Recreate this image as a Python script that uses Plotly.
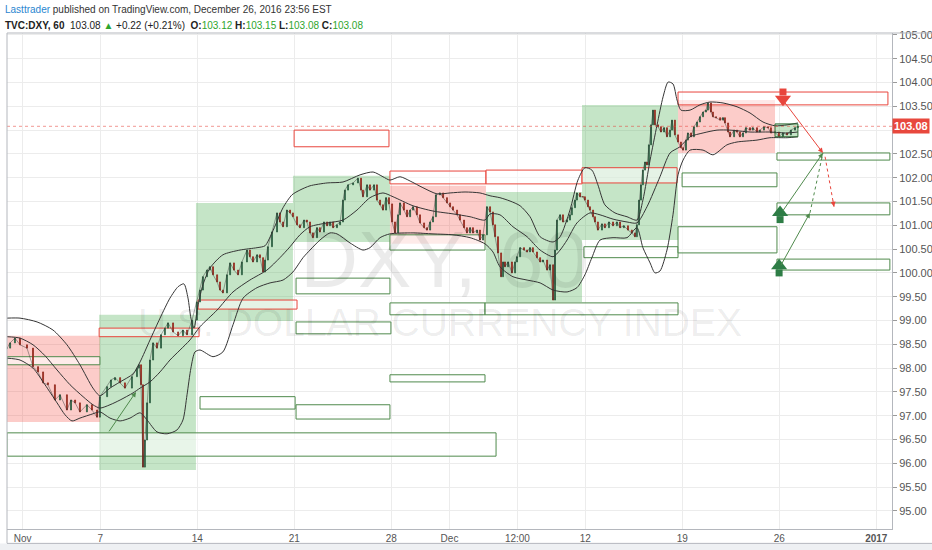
import plotly.graph_objects as go

# time axis: trading days counted from Nov 1 2016 00:00 (weekends removed)
tick_t = [0, 4, 9, 14, 19, 22, 25.5, 29, 34, 39, 44]
tick_text = ["Nov", "7", "14", "21", "28", "Dec", "12:00", "12", "19", "26", "<b>2017</b>"]
price_ticks = [95.0 + 0.5 * i for i in range(21)]

# hourly closes (sampled), DXY 60
t_close = [
    -0.81, -0.65, -0.40, -0.14, 0.22, 0.53, 0.79, 1.05, 1.30, 1.66, 1.92, 2.28, 2.49, 2.70, 2.95, 3.31, 3.57, 3.83,
    3.98, 4.35, 4.55, 4.76, 5.02, 5.27, 5.63, 5.89, 5.99, 6.10, 6.20, 6.30, 6.41, 6.56, 6.72, 6.92, 7.13, 7.33, 7.49, 7.75, 8.01, 8.26, 8.47, 8.73,
    8.98, 9.14, 9.29, 9.50, 9.65, 9.81, 10.02, 10.17, 10.32, 10.53, 10.69, 10.89, 11.10, 11.30, 11.56, 11.71, 11.87, 12.08, 12.23, 12.39, 12.49, 12.64, 12.85, 13.11, 13.26, 13.42, 13.62, 13.78,
    13.93, 14.14, 14.29, 14.50, 14.65, 14.81, 14.96, 15.17, 15.32, 15.53, 15.69, 15.84, 16.00, 16.20, 16.36, 16.51, 16.61, 16.77, 17.03, 17.28, 17.44, 17.54, 17.75, 17.90, 18.11, 18.26, 18.42, 18.57, 18.73,
    18.88, 19.04, 19.19, 19.35, 19.45, 19.65, 19.81, 19.97, 20.12, 20.32, 20.48, 20.69, 20.84, 21.00, 21.15, 21.30, 21.51, 21.67, 21.87, 22.03, 22.18, 22.39, 22.54, 22.75, 22.90, 23.06, 23.21, 23.42, 23.57, 23.73,
    23.93, 24.09, 24.24, 24.35, 24.50, 24.66, 24.76, 24.86, 25.02, 25.22, 25.38, 25.48, 25.64, 25.84, 26.00, 26.15, 26.30, 26.51, 26.67, 26.82, 27.03, 27.18, 27.34, 27.44,
    27.54, 27.70, 27.85, 28.06, 28.21, 28.31, 28.47, 28.57, 28.73, 28.88,
    28.98, 29.14, 29.24, 29.40, 29.50, 29.65, 29.86, 30.01, 30.22, 30.43, 30.63, 30.79, 30.99, 31.20, 31.40, 31.56, 31.66, 31.77, 31.87, 31.97, 32.08, 32.18, 32.28, 32.39, 32.49, 32.59, 32.75, 32.90, 33.06, 33.21, 33.37, 33.47, 33.62,
    33.78, 33.93, 34.04, 34.19, 34.29, 34.45, 34.60, 34.76, 34.91, 35.07, 35.22, 35.32, 35.48, 35.58, 35.74, 35.95, 36.10, 36.20, 36.36, 36.46, 36.67, 36.82, 36.97, 37.13, 37.28, 37.49, 37.64, 37.85, 38.00, 38.21, 38.42, 38.57,
    38.78, 38.98, 39.19, 39.40, 39.60, 39.81, 39.96,
]
close = [
    98.42, 98.53, 98.63, 98.49, 98.42, 98.03, 97.92, 97.69, 97.65, 97.33, 97.44, 97.12, 97.33, 97.27, 97.08, 97.23, 97.12, 96.97,
    97.40, 97.61, 97.75, 97.80, 97.69, 97.58, 97.82, 98.00, 98.07, 97.65, 95.92, 96.49, 97.27, 98.17, 98.53, 98.42, 98.70, 98.84, 98.95, 98.76, 98.68, 98.80, 98.70, 99.01,
    99.39, 99.64, 99.92, 100.06, 100.13, 99.96, 99.81, 99.64, 99.58, 99.96, 100.21, 100.06, 99.96, 100.23, 100.48, 100.34, 100.23, 100.38, 100.32, 100.02, 100.27, 100.55, 100.86, 101.26, 101.07, 100.97, 101.32, 101.26,
    101.18, 101.01, 100.95, 101.11, 101.07, 100.84, 100.74, 100.95, 100.86, 101.07, 100.99, 101.07, 100.95, 101.01, 101.07, 101.53, 101.74, 101.85, 101.89, 101.99, 101.74, 101.60, 101.85, 101.74, 101.85, 101.53, 101.43, 101.32, 101.58,
    101.45, 101.07, 100.84, 101.22, 101.47, 101.32, 101.18, 101.32, 101.39, 101.22, 101.05, 100.95, 100.90, 101.07, 101.18, 101.64, 101.68, 101.58, 101.47, 101.39, 101.32, 101.22, 101.11, 100.95, 100.84, 100.95, 100.84, 100.90, 100.69, 100.80,
    101.39, 101.28, 101.01, 100.76, 100.42, 99.92, 100.23, 100.13, 100.23, 100.00, 100.23, 100.34, 100.53, 100.48, 100.44, 100.53, 100.44, 100.32, 100.23, 100.27, 100.06, 100.17, 99.43, 100.48,
    101.11, 101.22, 101.07, 101.11, 101.22, 101.37, 101.53, 101.68, 101.60, 101.60,
    101.53, 101.39, 101.32, 101.18, 101.07, 100.90, 101.03, 100.95, 101.07, 100.99, 101.07, 100.95, 100.99, 100.90, 100.84, 100.76, 101.01, 101.53, 101.85, 102.16, 102.33, 102.27, 102.69, 103.11, 103.42, 103.11, 103.07, 102.96, 103.05, 102.86, 103.00, 103.21, 102.90,
    102.75, 102.63, 102.58, 102.79, 102.94, 102.86, 103.07, 103.17, 103.28, 103.38, 103.42, 103.57, 103.38, 103.28, 103.26, 103.21, 103.26, 103.15, 102.96, 102.86, 103.00, 102.96, 102.86, 102.94, 103.05, 103.00, 103.05, 102.96, 103.00, 103.07, 103.05, 102.94,
    102.96, 102.86, 102.94, 102.90, 103.00, 103.05, 103.08,
]

# Bollinger bands
bb_upper_t = [-0.81, -0.14, 0.74, 1.56, 2.28, 2.95, 3.62, 3.98, 4.50, 5.02, 5.69, 6.05, 6.56, 7.08, 7.59, 8.01, 8.31, 8.52, 8.67, 8.83, 9.04, 9.29, 9.65, 10.32, 11.20, 12.08, 12.49, 12.85, 13.42, 13.88, 14.29, 14.81, 15.69, 16.51, 17.39, 18.06, 18.57, 18.93, 19.45, 19.97, 20.63, 21.36, 22.03, 22.80, 23.57, 24.09, 24.60, 25.12, 25.64, 26.15, 26.67, 27.34, 27.70, 28.21, 28.62, 28.98, 29.34, 29.65, 30.01, 30.53, 31.15, 31.66, 31.97, 32.34, 32.70, 33.01, 33.27, 33.52, 33.73, 33.93, 34.40, 34.91, 35.43, 36.10, 36.82, 37.49, 38.16, 38.78, 39.40, 39.96]
bb_upper = [99.05, 99.05, 98.97, 98.80, 98.49, 98.07, 97.58, 97.42, 97.58, 97.71, 97.88, 98.13, 98.59, 99.05, 99.47, 99.71, 99.77, 99.47, 99.05, 98.84, 99.33, 99.75, 100.10, 100.38, 100.48, 100.53, 100.57, 100.84, 101.37, 101.64, 101.74, 101.83, 101.89, 101.91, 102.06, 102.12, 102.02, 101.95, 102.02, 101.93, 101.79, 101.66, 101.68, 101.70, 101.68, 101.62, 101.58, 101.51, 101.41, 101.18, 100.76, 100.65, 100.76, 101.32, 101.95, 102.21, 102.16, 101.85, 101.43, 101.26, 101.18, 101.11, 101.53, 102.37, 103.11, 103.70, 104.01, 103.97, 103.63, 103.42, 103.42, 103.53, 103.59, 103.57, 103.49, 103.36, 103.17, 103.09, 103.11, 103.15]

bb_mid_t = [-0.81, -0.14, 0.53, 1.15, 1.77, 2.44, 3.11, 3.62, 3.98, 4.50, 5.02, 5.69, 6.05, 6.56, 7.08, 7.59, 8.11, 8.62, 9.14, 10.02, 10.84, 11.71, 12.59, 13.26, 13.78, 14.29, 14.81, 15.69, 16.51, 17.23, 17.90, 18.57, 19.09, 20.12, 21.15, 22.18, 23.06, 23.83, 24.09, 24.60, 25.27, 26.00, 26.67, 27.34, 27.70, 28.06, 28.57, 29.24, 29.76, 30.43, 31.15, 31.66, 32.18, 32.85, 33.37, 33.88, 34.40, 35.07, 35.79, 36.46, 37.49, 38.52, 39.40, 39.96]
bb_mid = [98.66, 98.63, 98.49, 98.26, 97.96, 97.65, 97.40, 97.23, 97.16, 97.23, 97.33, 97.48, 97.58, 97.71, 97.92, 98.17, 98.38, 98.59, 98.87, 99.22, 99.60, 99.85, 100.06, 100.32, 100.55, 100.80, 100.97, 101.05, 101.11, 101.32, 101.58, 101.68, 101.60, 101.41, 101.30, 101.24, 101.18, 101.11, 101.24, 101.22, 100.97, 100.76, 100.48, 100.34, 100.48, 100.69, 101.05, 101.26, 101.22, 101.13, 101.07, 101.05, 101.39, 102.02, 102.52, 102.65, 102.86, 102.94, 103.00, 103.00, 102.96, 102.96, 102.94, 102.96]

bb_lower_t = [-0.81, -0.14, 0.53, 1.15, 1.77, 2.18, 2.54, 2.95, 3.62, 3.98, 4.50, 5.02, 5.53, 6.05, 6.41, 6.92, 7.44, 7.95, 8.26, 8.47, 8.67, 8.88, 9.14, 9.81, 10.32, 10.84, 11.36, 12.08, 12.75, 13.42, 13.93, 14.45, 14.81, 15.32, 15.84, 16.20, 16.87, 17.54, 17.90, 18.42, 18.93, 20.12, 21.15, 22.18, 23.06, 23.83, 24.24, 24.60, 25.27, 26.00, 26.67, 27.34, 28.06, 28.57, 28.98, 29.34, 29.76, 30.43, 31.15, 31.66, 31.97, 32.34, 32.59, 32.85, 33.21, 33.52, 33.78, 34.04, 34.40, 35.07, 35.58, 36.30, 36.82, 37.85, 38.52, 39.40, 39.96]
bb_lower = [98.21, 98.17, 98.00, 97.65, 97.27, 97.02, 96.89, 96.95, 97.04, 97.08, 96.95, 96.89, 96.95, 97.06, 96.91, 96.66, 96.62, 96.70, 96.91, 97.44, 98.00, 98.34, 98.38, 98.24, 98.34, 98.91, 99.47, 99.69, 99.79, 99.85, 100.02, 100.32, 100.48, 100.69, 100.84, 100.82, 100.63, 100.48, 100.53, 100.74, 100.82, 100.84, 100.82, 100.80, 100.74, 100.61, 100.44, 100.13, 99.92, 99.85, 99.79, 99.64, 99.60, 99.69, 99.96, 100.32, 100.69, 100.74, 100.74, 100.95, 100.53, 100.21, 100.00, 100.04, 100.48, 101.22, 102.06, 102.37, 102.58, 102.58, 102.48, 102.69, 102.75, 102.79, 102.84, 102.84, 102.86]

# drawn zones: filled (start, end, low, high)
green_zone_t0 = [3.94, 8.93, 13.93, 23.88, 28.83, 38.78]
green_zone_t1 = [8.93, 13.93, 18.93, 28.83, 33.78, 39.96]
green_zone_lo = [95.86, 98.99, 100.65, 99.39, 100.69, 102.86]
green_zone_hi = [99.12, 101.47, 102.04, 101.70, 103.53, 103.13]

red_zone_t0 = [-0.81, 18.93, 33.78]
red_zone_t1 = [3.98, 23.88, 38.78]
red_zone_lo = [96.87, 100.61, 102.52]
red_zone_hi = [98.68, 101.83, 103.63]

# drawn outline boxes
red_box_t0 = [3.94, 9.04, 13.99, 18.93, 23.88, 28.83, 33.78]
red_box_t1 = [9.09, 14.14, 18.88, 23.88, 28.83, 33.73, 44.60]
red_box_lo = [98.66, 99.24, 102.65, 101.87, 101.87, 101.89, 103.53]
red_box_hi = [98.84, 99.43, 103.00, 102.14, 102.16, 102.21, 103.80]

green_box_t0 = [-0.81, -0.81, 9.14, 14.09, 14.09, 14.09, 18.93, 18.93, 18.93, 23.83, 28.93, 33.99, 33.78, 38.88, 38.88, 38.88]
green_box_t1 = [3.98, 24.40, 14.04, 18.93, 18.98, 18.93, 23.83, 23.83, 23.83, 33.78, 33.78, 38.88, 38.88, 44.70, 44.70, 44.70]
green_box_lo = [98.07, 96.15, 97.14, 99.56, 98.72, 96.93, 100.48, 99.12, 97.71, 99.12, 100.32, 101.81, 100.42, 102.37, 101.22, 100.06]
green_box_hi = [98.24, 96.64, 97.40, 99.89, 98.97, 97.23, 100.80, 99.37, 97.86, 99.37, 100.55, 102.10, 100.97, 102.52, 101.47, 100.29]

# trend arrows (from t, from price, to t, to price)
green_arrows = [(4.40, 96.64, 5.84, 97.50), (39.14, 101.28, 41.25, 102.52), (39.04, 100.13, 40.58, 101.26)]
green_dashed = [(40.58, 101.26, 41.25, 102.52)]
red_arrows = [(39.19, 103.63, 41.25, 102.52)]
red_dashed = [(41.36, 102.44, 41.82, 101.39)]
up_icons = [(39.04, 101.22), (38.99, 100.10)]
down_icons = [(39.19, 103.70)]

last_price = 103.08

FONT = "Liberation Sans"
GREEN = "#4f8a4c"
RED = "#e8453c"

opens = [close[0]] + close[:-1]
highs = [max(o, c) for o, c in zip(opens, close)]
lows = [min(o, c) for o, c in zip(opens, close)]

fig = go.Figure()

# watermark (first trace so it sits under the candles)
fig.add_trace(go.Scatter(
    x=[21.72, 21.51], y=[100.13, 98.87], mode="text",
    text=["DXY, 60", "U.S. DOLLAR CURRENCY INDEX"],
    textfont=dict(family=FONT, size=[80, 39], color="rgba(0,0,0,0.08)"),
    hoverinfo="skip", showlegend=False,
))

for t, y in [(bb_upper_t, bb_upper), (bb_mid_t, bb_mid), (bb_lower_t, bb_lower)]:
    fig.add_trace(go.Scatter(x=t, y=y, mode="lines", hoverinfo="skip", showlegend=False,
                             line=dict(color="#353535", width=1, shape="spline", smoothing=0.7)))

fig.add_trace(go.Scatter(x=t_close, y=close, mode="lines", hoverinfo="skip", showlegend=False,
                         line=dict(color="rgba(50,50,50,0.55)", width=0.8)))

fig.add_trace(go.Candlestick(
    x=t_close, open=opens, high=highs, low=lows, close=close,
    increasing=dict(line=dict(color="#225437", width=0.8), fillcolor="#6ba583"),
    decreasing=dict(line=dict(color="#8b2318", width=0.8), fillcolor="#d75442"),
    whiskerwidth=0, hoverinfo="skip", showlegend=False,
))

shapes = []
for a, b, lo, hi in zip(green_zone_t0, green_zone_t1, green_zone_lo, green_zone_hi):
    shapes.append(dict(type="rect", xref="x", yref="y", x0=a, x1=b, y0=lo, y1=hi, layer="between",
                       fillcolor="rgba(76,175,80,0.32)", line=dict(width=0)))
for a, b, lo, hi in zip(red_zone_t0, red_zone_t1, red_zone_lo, red_zone_hi):
    shapes.append(dict(type="rect", xref="x", yref="y", x0=a, x1=b, y0=lo, y1=hi, layer="between",
                       fillcolor="rgba(244,67,54,0.27)", line=dict(width=0)))
for a, b, lo, hi in zip(red_box_t0, red_box_t1, red_box_lo, red_box_hi):
    shapes.append(dict(type="rect", xref="x", yref="y", x0=a, x1=b, y0=lo, y1=hi, layer="between",
                       fillcolor="rgba(255,255,255,0.55)", line=dict(color=RED, width=1)))
for a, b, lo, hi in zip(green_box_t0, green_box_t1, green_box_lo, green_box_hi):
    shapes.append(dict(type="rect", xref="x", yref="y", x0=a, x1=b, y0=lo, y1=hi, layer="between",
                       fillcolor="rgba(255,255,255,0.6)", line=dict(color=GREEN, width=1)))
# outline of the small consolidation box
shapes.append(dict(type="rect", xref="x", yref="y", x0=green_zone_t0[-1], x1=green_zone_t1[-1],
                   y0=green_zone_lo[-1], y1=green_zone_hi[-1], line=dict(color="#2f6b34", width=1)))

for x0, y0, x1, y1 in green_dashed:
    shapes.append(dict(type="line", xref="x", yref="y", x0=x0, y0=y0, x1=x1, y1=y1,
                       line=dict(color=GREEN, width=1, dash="dot")))
for x0, y0, x1, y1 in red_dashed:
    shapes.append(dict(type="line", xref="x", yref="y", x0=x0, y0=y0, x1=x1, y1=y1,
                       line=dict(color=RED, width=1, dash="dot")))

# last price line
shapes.append(dict(type="line", xref="paper", yref="y", x0=0, x1=1, y0=last_price, y1=last_price,
                   line=dict(color="rgba(232,69,60,0.55)", width=1, dash="dot")))
# frame
shapes.append(dict(type="line", xref="paper", yref="paper", x0=0, x1=1.06, y0=1, y1=1,
                   line=dict(color="#b4b7bd", width=1)))
shapes.append(dict(type="line", xref="paper", yref="paper", x0=0, x1=0, y0=-0.029, y1=1,
                   line=dict(color="#b4b7bd", width=1)))
shapes.append(dict(type="rect", xref="paper", yref="paper", x0=-0.02, x1=1.06, y0=-0.029, y1=-0.06,
                   fillcolor="#eef0f3", line=dict(width=0)))
shapes.append(dict(type="line", xref="paper", yref="paper", x0=0, x1=1.06, y0=-0.029, y1=-0.029,
                   line=dict(color="#b4b7bd", width=1)))

annotations = []
for x0, y0, x1, y1 in green_arrows:
    annotations.append(dict(x=x1, y=y1, ax=x0, ay=y0, xref="x", yref="y", axref="x", ayref="y", text="",
                            showarrow=True, arrowhead=2, arrowsize=1, arrowwidth=1, arrowcolor=GREEN))
for x0, y0, x1, y1 in red_arrows:
    annotations.append(dict(x=x1, y=y1, ax=x0, ay=y0, xref="x", yref="y", axref="x", ayref="y", text="",
                            showarrow=True, arrowhead=2, arrowsize=1, arrowwidth=1, arrowcolor=RED))
for x0, y0, x1, y1 in red_dashed:
    annotations.append(dict(x=x1, y=y1, ax=x1 - 0.15 * (x1 - x0), ay=y1 - 0.15 * (y1 - y0),
                            xref="x", yref="y", axref="x", ayref="y", text="",
                            showarrow=True, arrowhead=2, arrowsize=1, arrowwidth=1, arrowcolor=RED))

annotations.append(dict(
    xref="paper", yref="y", x=1.0, y=last_price, xanchor="left", yanchor="middle",
    text="<b>103.08</b>", showarrow=False, bgcolor="#e8483d", borderpad=1,
    font=dict(family=FONT, size=11, color="white"),
))
annotations.append(dict(
    xref="paper", yref="paper", x=-0.005, y=1.047, xanchor="left", yanchor="middle", showarrow=False,
    text="<span style='color:#2a86d0'>Lasttrader</span> published on TradingView.com, December 26, 2016 23:56 EST",
    font=dict(family=FONT, size=10, color="#333333"),
))
annotations.append(dict(
    xref="paper", yref="paper", x=-0.005, y=1.015, xanchor="left", yanchor="middle", showarrow=False,
    text=("<b>TVC:DXY, 60</b>  103.08 <span style='color:#2ea52e'>▲</span> +0.22 (+0.21%)  "
          "<b>O:</b><span style='color:#2ea52e'>103.12</span> <b>H:</b><span style='color:#2ea52e'>103.15</span> "
          "<b>L:</b><span style='color:#2ea52e'>103.08</span> <b>C:</b><span style='color:#2ea52e'>103.08</span>"),
    font=dict(family=FONT, size=10, color="#222222"),
))

# arrow icons: head triangle + stem
fig.add_trace(go.Scatter(x=[t for t, p in up_icons], y=[p + 0.05 for t, p in up_icons], mode="markers",
                         marker=dict(symbol="triangle-up", size=14, color="#2e7d46"), hoverinfo="skip", showlegend=False))
fig.add_trace(go.Scatter(x=[t for t, p in up_icons], y=[p - 0.1 for t, p in up_icons], mode="markers",
                         marker=dict(symbol="square", size=7, color="#2e7d46"), hoverinfo="skip", showlegend=False))
fig.add_trace(go.Scatter(x=[t for t, p in down_icons], y=[p - 0.05 for t, p in down_icons], mode="markers",
                         marker=dict(symbol="triangle-down", size=14, color=RED), hoverinfo="skip", showlegend=False))
fig.add_trace(go.Scatter(x=[t for t, p in down_icons], y=[p + 0.1 for t, p in down_icons], mode="markers",
                         marker=dict(symbol="square", size=7, color=RED), hoverinfo="skip", showlegend=False))

# the 103.00 label sits under the last-price tag, as on the original
y_labels = ["" if v == 103.0 else "%.2f" % v for v in price_ticks]

fig.update_layout(
    width=932, height=550,
    margin=dict(l=7, r=40, t=33, b=21),
    paper_bgcolor="white", plot_bgcolor="white",
    showlegend=False, hovermode=False,
    shapes=shapes, annotations=annotations,
    font=dict(family=FONT, size=10, color="#555555"),
    xaxis=dict(
        range=[-0.81, 44.81], tickmode="array", tickvals=tick_t, ticktext=tick_text,
        showgrid=True, gridcolor="#ececec", gridwidth=1, zeroline=False,
        showline=True, linecolor="#b4b7bd", ticks="", automargin=False,
        tickfont=dict(family=FONT, size=10, color="#555555"),
        rangeslider=dict(visible=False), fixedrange=True,
    ),
    yaxis=dict(
        side="right", range=[94.62, 105.04], tickmode="array", tickvals=price_ticks,
        ticktext=y_labels,
        showgrid=True, gridcolor="#ececec", gridwidth=1, zeroline=False,
        showline=True, linecolor="#b4b7bd", ticks="outside", ticklen=4, tickcolor="#9a9a9a",
        automargin=False, tickfont=dict(family=FONT, size=11, color="#555555"), fixedrange=True,
    ),
)

fig.write_html("out.html", config={"displayModeBar": False},
               post_script="document.body.style.margin='0';document.body.style.overflow='hidden';")
